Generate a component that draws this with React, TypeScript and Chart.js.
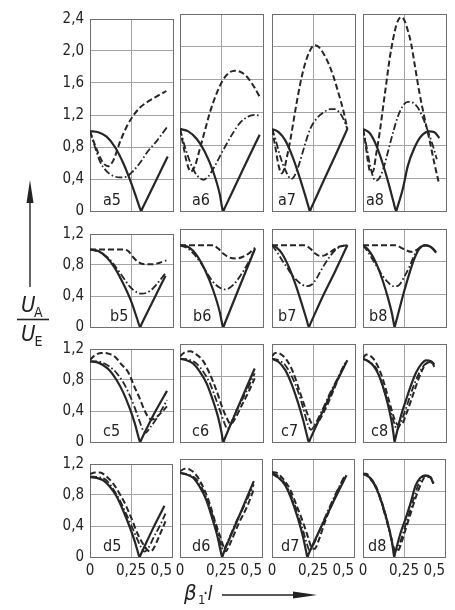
import { useEffect, useRef } from 'react';
import { Chart, registerables } from 'chart.js';

Chart.register(...registerables);

type Pt = [number, number];

// ---- axis ticks ----
const xTickValues = [0, 0.25, 0.5];
const xTickLabels = ['0', '0,25', '0,5'];
const yTickValuesTall = [0, 0.4, 0.8, 1.2, 1.6, 2.0, 2.4];
const yTickLabelsTall = ['0', '0,4', '0,8', '1,2', '1,6', '2,0', '2,4'];
const yTickValuesShort = [0, 0.4, 0.8, 1.2];
const yTickLabelsShort = ['0', '0,4', '0,8', '1,2'];

const rowNames = ['a', 'b', 'c', 'd'];
const colNames = ['5', '6', '7', '8'];

// ---- row a ----
const a5Solid: Pt[] = [[0, 1.0], [0.05, 0.985], [0.1, 0.93], [0.15, 0.8], [0.2, 0.6], [0.25, 0.34], [0.285, 0.13], [0.3, 0.04], [0.308, 0], [0.316, 0.035], [0.4, 0.39], [0.468, 0.68]];
const a5Dashed: Pt[] = [[0, 1.0], [0.02, 0.88], [0.05, 0.72], [0.08, 0.6], [0.11, 0.56], [0.14, 0.63], [0.18, 0.86], [0.22, 1.05], [0.25, 1.16], [0.3, 1.29], [0.35, 1.37], [0.4, 1.43], [0.46, 1.5]];
const a5DashDot: Pt[] = [[0, 1.0], [0.03, 0.8], [0.06, 0.62], [0.09, 0.52], [0.12, 0.46], [0.15, 0.43], [0.18, 0.42], [0.22, 0.43], [0.26, 0.5], [0.3, 0.6], [0.35, 0.75], [0.4, 0.87], [0.468, 1.06]];

const a6Solid: Pt[] = [[0, 1.0], [0.05, 0.97], [0.1, 0.88], [0.15, 0.72], [0.2, 0.48], [0.24, 0.2], [0.253, 0.05], [0.261, 0], [0.269, 0.035], [0.35, 0.38], [0.42, 0.68], [0.48, 0.93]];
const a6Dashed: Pt[] = [[0, 1.0], [0.02, 0.8], [0.04, 0.6], [0.065, 0.48], [0.09, 0.55], [0.12, 0.76], [0.15, 0.98], [0.18, 1.2], [0.22, 1.43], [0.26, 1.6], [0.3, 1.69], [0.33, 1.71], [0.37, 1.69], [0.41, 1.62], [0.45, 1.5], [0.48, 1.39]];
const a6DashDot: Pt[] = [[0, 1.0], [0.03, 0.78], [0.06, 0.6], [0.09, 0.47], [0.12, 0.4], [0.14, 0.38], [0.17, 0.42], [0.21, 0.55], [0.26, 0.74], [0.31, 0.92], [0.36, 1.07], [0.41, 1.15], [0.45, 1.17], [0.48, 1.16]];

const a7Solid: Pt[] = [[0, 1.0], [0.04, 0.96], [0.08, 0.86], [0.12, 0.68], [0.16, 0.45], [0.2, 0.19], [0.22, 0.05], [0.228, 0], [0.236, 0.035], [0.3, 0.32], [0.38, 0.67], [0.454, 1.0]];
const a7Dashed: Pt[] = [[0, 1.0], [0.02, 0.78], [0.04, 0.55], [0.058, 0.46], [0.075, 0.52], [0.09, 0.66], [0.11, 0.86], [0.14, 1.22], [0.17, 1.55], [0.2, 1.8], [0.23, 1.96], [0.255, 2.02], [0.28, 2.0], [0.31, 1.92], [0.34, 1.8], [0.37, 1.64], [0.4, 1.44], [0.43, 1.22], [0.454, 1.0]];
const a7DashDot: Pt[] = [[0, 1.0], [0.02, 0.88], [0.05, 0.66], [0.08, 0.5], [0.1, 0.42], [0.115, 0.39], [0.13, 0.41], [0.16, 0.55], [0.2, 0.82], [0.23, 1.0], [0.27, 1.13], [0.31, 1.2], [0.35, 1.24], [0.38, 1.24], [0.41, 1.19], [0.435, 1.1], [0.454, 1.0]];

const a8Solid: Pt[] = [[0, 1.0], [0.04, 0.95], [0.08, 0.8], [0.12, 0.57], [0.155, 0.33], [0.185, 0.1], [0.2, 0], [0.208, 0.05], [0.24, 0.27], [0.27, 0.55], [0.31, 0.77], [0.35, 0.91], [0.4, 0.97], [0.43, 0.96], [0.46, 0.89]];
const a8Dashed: Pt[] = [[0, 1.0], [0.015, 0.82], [0.03, 0.6], [0.045, 0.47], [0.06, 0.48], [0.08, 0.7], [0.1, 0.95], [0.12, 1.25], [0.14, 1.55], [0.16, 1.85], [0.18, 2.08], [0.2, 2.26], [0.22, 2.35], [0.235, 2.36], [0.25, 2.32], [0.27, 2.2], [0.29, 2.04], [0.31, 1.8], [0.34, 1.44], [0.37, 1.14], [0.4, 0.87], [0.43, 0.58], [0.455, 0.36]];
const a8DashDot: Pt[] = [[0, 1.0], [0.02, 0.8], [0.04, 0.58], [0.06, 0.42], [0.075, 0.37], [0.09, 0.38], [0.12, 0.5], [0.15, 0.72], [0.18, 0.95], [0.21, 1.15], [0.24, 1.28], [0.27, 1.33], [0.3, 1.32], [0.33, 1.26], [0.36, 1.14], [0.39, 0.98], [0.42, 0.8], [0.445, 0.63]];

// ---- row b ----
const b5Solid: Pt[] = [[0, 1.0], [0.05, 0.98], [0.1, 0.9], [0.15, 0.76], [0.2, 0.56], [0.25, 0.32], [0.285, 0.1], [0.302, 0], [0.31, 0.035], [0.38, 0.34], [0.455, 0.66]];
const b5Dashed: Pt[] = [[0, 1.0], [0.1, 1.0], [0.2, 1.0], [0.23, 0.98], [0.26, 0.9], [0.29, 0.84], [0.33, 0.81], [0.38, 0.81], [0.42, 0.83], [0.46, 0.86]];
const b5DashDot: Pt[] = [[0, 1.0], [0.04, 0.98], [0.08, 0.94], [0.12, 0.87], [0.16, 0.76], [0.2, 0.64], [0.24, 0.52], [0.28, 0.45], [0.31, 0.43], [0.34, 0.44], [0.38, 0.5], [0.42, 0.6], [0.46, 0.71]];

const b6Solid: Pt[] = [[0, 1.0], [0.05, 0.98], [0.1, 0.88], [0.15, 0.7], [0.2, 0.45], [0.24, 0.18], [0.253, 0.05], [0.261, 0], [0.269, 0.04], [0.35, 0.45], [0.452, 0.96]];
const b6Dashed: Pt[] = [[0, 1.0], [0.1, 1.0], [0.2, 1.0], [0.23, 0.96], [0.26, 0.9], [0.3, 0.85], [0.34, 0.84], [0.38, 0.86], [0.42, 0.91], [0.452, 0.97]];
const b6DashDot: Pt[] = [[0, 1.0], [0.04, 0.97], [0.08, 0.9], [0.12, 0.8], [0.16, 0.67], [0.2, 0.55], [0.24, 0.48], [0.27, 0.46], [0.3, 0.48], [0.34, 0.56], [0.38, 0.68], [0.42, 0.82], [0.452, 0.96]];

const b7Solid: Pt[] = [[0, 1.0], [0.03, 0.97], [0.06, 0.9], [0.1, 0.74], [0.14, 0.53], [0.18, 0.28], [0.21, 0.08], [0.222, 0], [0.23, 0.035], [0.3, 0.35], [0.38, 0.68], [0.454, 1.0]];
const b7Dashed: Pt[] = [[0, 1.0], [0.1, 1.0], [0.2, 1.0], [0.23, 0.96], [0.26, 0.9], [0.29, 0.87], [0.32, 0.88], [0.36, 0.93], [0.4, 0.98], [0.454, 1.0]];
const b7DashDot: Pt[] = [[0, 1.0], [0.03, 0.92], [0.06, 0.82], [0.09, 0.73], [0.12, 0.64], [0.15, 0.57], [0.18, 0.52], [0.21, 0.5], [0.24, 0.52], [0.27, 0.6], [0.3, 0.71], [0.34, 0.84], [0.38, 0.94], [0.42, 0.99], [0.454, 1.0]];

const b8Solid: Pt[] = [[0, 1.0], [0.03, 0.95], [0.06, 0.86], [0.09, 0.73], [0.12, 0.56], [0.15, 0.36], [0.175, 0.16], [0.185, 0.05], [0.19, 0], [0.196, 0.04], [0.24, 0.38], [0.28, 0.66], [0.31, 0.84], [0.34, 0.96], [0.37, 1.0], [0.4, 0.99], [0.42, 0.96], [0.44, 0.91]];
const b8Dashed: Pt[] = [[0, 1.0], [0.1, 1.0], [0.2, 1.0], [0.23, 0.97], [0.26, 0.94], [0.29, 0.92], [0.32, 0.94], [0.35, 0.98], [0.38, 1.0], [0.41, 0.98], [0.44, 0.92]];
const b8DashDot: Pt[] = [[0, 1.0], [0.03, 0.92], [0.06, 0.82], [0.09, 0.72], [0.12, 0.62], [0.15, 0.55], [0.18, 0.5], [0.2, 0.5], [0.22, 0.52], [0.25, 0.62], [0.28, 0.74], [0.31, 0.88], [0.34, 0.97], [0.37, 1.0], [0.4, 0.99], [0.44, 0.92]];

// ---- row c ----
const c5Solid: Pt[] = [[0, 1.04], [0.04, 1.03], [0.08, 0.99], [0.12, 0.92], [0.16, 0.8], [0.2, 0.64], [0.24, 0.43], [0.27, 0.24], [0.29, 0.08], [0.302, 0], [0.31, 0.035], [0.38, 0.34], [0.464, 0.66]];
const c5Dashed: Pt[] = [[0, 1.06], [0.03, 1.12], [0.07, 1.15], [0.11, 1.14], [0.15, 1.1], [0.19, 1.0], [0.23, 0.9], [0.27, 0.7], [0.3, 0.56], [0.33, 0.4], [0.355, 0.31], [0.375, 0.29], [0.4, 0.32], [0.43, 0.38], [0.464, 0.46]];
const c5DashDot: Pt[] = [[0, 1.04], [0.04, 1.04], [0.08, 1.02], [0.12, 0.97], [0.16, 0.89], [0.2, 0.77], [0.24, 0.6], [0.27, 0.44], [0.3, 0.26], [0.32, 0.15], [0.335, 0.12], [0.36, 0.18], [0.4, 0.3], [0.43, 0.41], [0.464, 0.54]];

const c6Solid: Pt[] = [[0, 1.02], [0.04, 1.0], [0.08, 0.96], [0.12, 0.86], [0.16, 0.72], [0.2, 0.5], [0.23, 0.3], [0.25, 0.12], [0.261, 0], [0.269, 0.04], [0.35, 0.43], [0.45, 0.9]];
const c6Dashed: Pt[] = [[0, 1.05], [0.03, 1.1], [0.06, 1.11], [0.1, 1.07], [0.14, 0.99], [0.18, 0.83], [0.22, 0.63], [0.25, 0.45], [0.28, 0.3], [0.305, 0.22], [0.33, 0.28], [0.37, 0.44], [0.41, 0.6], [0.45, 0.78]];
const c6DashDot: Pt[] = [[0, 1.02], [0.05, 1.01], [0.1, 0.96], [0.14, 0.86], [0.18, 0.72], [0.21, 0.56], [0.24, 0.39], [0.27, 0.22], [0.285, 0.16], [0.3, 0.2], [0.34, 0.38], [0.4, 0.62], [0.45, 0.84]];

const c7Solid: Pt[] = [[0, 1.02], [0.04, 0.98], [0.08, 0.88], [0.12, 0.7], [0.16, 0.46], [0.19, 0.25], [0.212, 0.07], [0.222, 0], [0.23, 0.035], [0.3, 0.35], [0.38, 0.7], [0.454, 1.0]];
const c7Dashed: Pt[] = [[0, 1.05], [0.02, 1.09], [0.05, 1.08], [0.09, 1.0], [0.13, 0.84], [0.17, 0.6], [0.2, 0.42], [0.23, 0.26], [0.255, 0.19], [0.28, 0.25], [0.33, 0.44], [0.37, 0.63], [0.41, 0.83], [0.44, 0.96]];
const c7DashDot: Pt[] = [[0, 1.02], [0.04, 1.0], [0.08, 0.94], [0.12, 0.8], [0.16, 0.6], [0.19, 0.4], [0.215, 0.22], [0.235, 0.15], [0.26, 0.22], [0.3, 0.38], [0.35, 0.6], [0.4, 0.8], [0.44, 0.97]];

const c8Solid: Pt[] = [[0, 1.02], [0.03, 0.99], [0.06, 0.94], [0.09, 0.84], [0.12, 0.68], [0.15, 0.46], [0.175, 0.22], [0.185, 0.08], [0.19, 0], [0.196, 0.05], [0.23, 0.33], [0.26, 0.52], [0.29, 0.7], [0.32, 0.85], [0.35, 0.95], [0.38, 1.0], [0.41, 0.99], [0.43, 0.95]];
const c8Dashed: Pt[] = [[0, 1.03], [0.02, 1.07], [0.04, 1.06], [0.07, 1.0], [0.1, 0.88], [0.13, 0.7], [0.16, 0.48], [0.19, 0.28], [0.21, 0.21], [0.23, 0.21], [0.26, 0.34], [0.3, 0.57], [0.34, 0.8], [0.38, 0.96], [0.41, 0.98], [0.43, 0.92]];
const c8DashDot: Pt[] = [[0, 1.02], [0.04, 0.98], [0.08, 0.9], [0.11, 0.74], [0.14, 0.55], [0.17, 0.35], [0.19, 0.22], [0.205, 0.15], [0.22, 0.2], [0.26, 0.42], [0.3, 0.66], [0.34, 0.85], [0.38, 0.96], [0.41, 0.97], [0.43, 0.94]];

// ---- row d ----
const d5Solid: Pt[] = [[0, 1.03], [0.04, 1.02], [0.08, 0.99], [0.12, 0.91], [0.16, 0.79], [0.2, 0.61], [0.24, 0.4], [0.27, 0.22], [0.29, 0.08], [0.302, 0], [0.31, 0.035], [0.38, 0.35], [0.454, 0.66]];
const d5Dashed: Pt[] = [[0, 1.07], [0.03, 1.09], [0.06, 1.09], [0.1, 1.04], [0.14, 0.95], [0.18, 0.82], [0.22, 0.66], [0.26, 0.46], [0.29, 0.3], [0.32, 0.18], [0.35, 0.09], [0.37, 0.07], [0.39, 0.12], [0.42, 0.26], [0.46, 0.46]];
const d5DashDot: Pt[] = [[0, 1.04], [0.05, 1.03], [0.1, 0.99], [0.14, 0.88], [0.18, 0.74], [0.22, 0.56], [0.25, 0.42], [0.28, 0.27], [0.31, 0.13], [0.33, 0.07], [0.35, 0.1], [0.39, 0.26], [0.43, 0.42], [0.46, 0.56]];

const d6Solid: Pt[] = [[0, 1.03], [0.04, 1.01], [0.08, 0.97], [0.12, 0.86], [0.16, 0.7], [0.2, 0.45], [0.23, 0.24], [0.248, 0.07], [0.257, 0], [0.264, 0.04], [0.35, 0.45], [0.45, 0.93]];
const d6Dashed: Pt[] = [[0, 1.05], [0.03, 1.08], [0.06, 1.07], [0.1, 1.0], [0.14, 0.86], [0.18, 0.66], [0.21, 0.46], [0.24, 0.28], [0.265, 0.13], [0.28, 0.07], [0.3, 0.14], [0.36, 0.42], [0.41, 0.62], [0.45, 0.83]];
const d6DashDot: Pt[] = [[0, 1.03], [0.05, 1.01], [0.1, 0.95], [0.14, 0.82], [0.18, 0.62], [0.21, 0.44], [0.235, 0.26], [0.255, 0.12], [0.265, 0.09], [0.28, 0.14], [0.34, 0.42], [0.4, 0.66], [0.45, 0.89]];

const d7Solid: Pt[] = [[0, 1.02], [0.04, 0.97], [0.08, 0.88], [0.12, 0.7], [0.16, 0.46], [0.19, 0.24], [0.208, 0.07], [0.216, 0], [0.223, 0.035], [0.3, 0.37], [0.38, 0.7], [0.454, 1.0]];
const d7Dashed: Pt[] = [[0, 1.04], [0.03, 1.03], [0.07, 0.95], [0.11, 0.83], [0.15, 0.63], [0.19, 0.42], [0.22, 0.24], [0.24, 0.12], [0.26, 0.1], [0.28, 0.18], [0.33, 0.47], [0.39, 0.76], [0.44, 0.98]];
const d7DashDot: Pt[] = [[0, 1.03], [0.04, 0.99], [0.08, 0.9], [0.12, 0.74], [0.16, 0.51], [0.19, 0.32], [0.21, 0.18], [0.23, 0.08], [0.25, 0.14], [0.32, 0.47], [0.38, 0.74], [0.44, 0.98]];

const d8Solid: Pt[] = [[0, 1.02], [0.03, 0.99], [0.06, 0.93], [0.09, 0.8], [0.12, 0.63], [0.15, 0.42], [0.175, 0.2], [0.185, 0.07], [0.19, 0], [0.196, 0.05], [0.23, 0.3], [0.26, 0.47], [0.29, 0.66], [0.32, 0.87], [0.35, 0.97], [0.38, 1.0], [0.41, 0.98], [0.43, 0.9]];
const d8Dashed: Pt[] = [[0, 1.02], [0.02, 1.02], [0.05, 0.94], [0.08, 0.86], [0.11, 0.7], [0.14, 0.5], [0.165, 0.3], [0.19, 0.1], [0.21, 0.07], [0.225, 0.12], [0.26, 0.34], [0.29, 0.53], [0.32, 0.72], [0.35, 0.88], [0.38, 0.98], [0.41, 0.98], [0.43, 0.9]];
const d8DashDot: Pt[] = [[0, 1.02], [0.04, 0.97], [0.08, 0.84], [0.11, 0.68], [0.14, 0.47], [0.16, 0.32], [0.185, 0.12], [0.2, 0.08], [0.215, 0.12], [0.25, 0.33], [0.28, 0.52], [0.31, 0.72], [0.34, 0.9], [0.37, 0.99], [0.4, 0.99], [0.43, 0.9]];

const panelCurves: Record<string, Pt[][]> = {
  a5: [a5Solid, a5Dashed, a5DashDot], a6: [a6Solid, a6Dashed, a6DashDot],
  a7: [a7Solid, a7Dashed, a7DashDot], a8: [a8Solid, a8Dashed, a8DashDot],
  b5: [b5Solid, b5Dashed, b5DashDot], b6: [b6Solid, b6Dashed, b6DashDot],
  b7: [b7Solid, b7Dashed, b7DashDot], b8: [b8Solid, b8Dashed, b8DashDot],
  c5: [c5Solid, c5Dashed, c5DashDot], c6: [c6Solid, c6Dashed, c6DashDot],
  c7: [c7Solid, c7Dashed, c7DashDot], c8: [c8Solid, c8Dashed, c8DashDot],
  d5: [d5Solid, d5Dashed, d5DashDot], d6: [d6Solid, d6Dashed, d6DashDot],
  d7: [d7Solid, d7Dashed, d7DashDot], d8: [d8Solid, d8Dashed, d8DashDot],
};

// ---- layout (px) ----
const COL_LEFT = [90, 180, 272, 363];
const PANEL_W = 83;
const ROW_TOP = [14, 229, 344, 459];
const ROW_H = [197, 98, 98, 98];
const PAD_L = 44;
const PAD_T = 10;
const PAD_R = 4;
const PAD_B = 28;
const LABEL_DX: Record<string, number> = {
  a5: 13, a6: 12, a7: 6, a8: 3,
  b5: 20, b6: 13, b7: 6, b8: 6,
  c5: 13, c6: 12, c7: 9, c8: 8,
  d5: 13, d6: 12, d7: 9, d8: 5,
};

const INK = '#262626';
const TEXT = '#222222';
const GRID = '#a3a3a3';
const FRAME = '#6e6e6e';
const FONT = "'DejaVu Sans Condensed', 'DejaVu Sans', sans-serif";

const LINE_STYLES = [
  { borderWidth: 2.2, borderDash: [] as number[] },
  { borderWidth: 2, borderDash: [6, 3] },
  { borderWidth: 1.8, borderDash: [7, 2.5, 1.6, 2.5] },
];

// The "0" at the start of each x axis sits centred on the panel edge.
const centerFirstXLabel = {
  id: 'centerFirstXLabel',
  beforeDraw(chart: any) {
    const s = chart.scales?.x;
    if (!s || !s.options.ticks.display || !s.getLabelItems) return;
    const items = s.getLabelItems();
    if (items && items.length) items[0].options.textAlign = 'center';
  },
};

function Panel({ row, col }: { row: number; col: number }) {
  const ref = useRef<HTMLCanvasElement | null>(null);
  const id = rowNames[row] + colNames[col];
  const h = ROW_H[row];
  const tall = row === 0;
  const yMax = tall ? 2.4 : 1.2;
  const yVals = tall ? yTickValuesTall : yTickValuesShort;
  const yLabels = tall ? yTickLabelsTall : yTickLabelsShort;
  const cw = PAD_L + PANEL_W + PAD_R;
  const ch = PAD_T + h + PAD_B;

  useEffect(() => {
    if (!ref.current) return;
    const curves = panelCurves[id];
    const frameColor = (max: number) => (ctx: any) =>
      ctx.tick && (ctx.tick.value === 0 || Math.abs(ctx.tick.value - max) < 1e-9) ? FRAME : GRID;
    const chart = new Chart(ref.current, {
      type: 'line',
      data: {
        datasets: curves.map((pts, i) => ({
          data: pts.map(([x, y]) => ({ x, y })),
          borderColor: INK,
          borderWidth: LINE_STYLES[i].borderWidth,
          borderDash: LINE_STYLES[i].borderDash,
          borderCapStyle: 'butt' as const,
          borderJoinStyle: 'round' as const,
          pointRadius: 0,
          cubicInterpolationMode: 'monotone' as const,
          fill: false,
        })),
      },
      options: {
        responsive: false,
        animation: false,
        devicePixelRatio: 1,
        events: [],
        layout: { padding: { top: PAD_T, right: PAD_R, left: 0, bottom: 0 } },
        plugins: { legend: { display: false }, tooltip: { enabled: false } },
        scales: {
          x: {
            type: 'linear',
            min: 0,
            max: 0.5,
            afterBuildTicks: (s: any) => { s.ticks = xTickValues.map((v) => ({ value: v })); },
            afterFit: (s: any) => { s.height = PAD_B; },
            grid: { color: frameColor(0.5), drawTicks: false, lineWidth: 1 },
            border: { color: FRAME, width: 1 },
            ticks: {
              display: row === 3,
              align: 'inner',
              padding: 5,
              color: TEXT,
              autoSkip: false,
              maxRotation: 0,
              minRotation: 0,
              font: { family: FONT, size: 15 },
              callback: (_v: any, i: number) => xTickLabels[i],
            },
          },
          y: {
            type: 'linear',
            min: 0,
            max: yMax,
            afterBuildTicks: (s: any) => { s.ticks = yVals.map((v) => ({ value: v })); },
            afterFit: (s: any) => { s.width = PAD_L; },
            grid: { color: frameColor(yMax), drawTicks: false, lineWidth: 1 },
            border: { color: FRAME, width: 1 },
            ticks: {
              display: col === 0,
              padding: 6,
              color: TEXT,
              autoSkip: false,
              font: { family: FONT, size: 15 },
              callback: (_v: any, i: number) => yLabels[i],
            },
          },
        },
      } as any,
      plugins: [centerFirstXLabel],
    });
    return () => chart.destroy();
  }, [id]);

  return (
    <canvas
      ref={ref}
      width={cw}
      height={ch}
      style={{
        position: 'absolute',
        left: COL_LEFT[col] - PAD_L,
        top: ROW_TOP[row] - PAD_T,
        width: cw,
        height: ch,
      }}
    />
  );
}

export default function App() {
  const panels: { row: number; col: number }[] = [];
  for (let r = 0; r < 4; r++) for (let c = 0; c < 4; c++) panels.push({ row: r, col: c });

  return (
    <div style={{ position: 'fixed', left: 0, top: 0, width: 455, height: 610, background: '#ffffff', overflow: 'hidden' }}>
      {panels.map((p) => (
        <Panel key={`${p.row}-${p.col}`} row={p.row} col={p.col} />
      ))}
      <svg width={455} height={610} style={{ position: 'absolute', left: 0, top: 0, pointerEvents: 'none' }}>
        <g fill={TEXT} fontFamily={FONT}>
          {panels.map((p) => {
            const id = rowNames[p.row] + colNames[p.col];
            const bottom = ROW_TOP[p.row] + ROW_H[p.row];
            return (
              <text key={id} x={COL_LEFT[p.col] + LABEL_DX[id]} y={bottom - 6} fontSize={16}>
                {id}
              </text>
            );
          })}
          {/* y-axis quantity: U_A / U_E with upward arrow */}
          <text x={21} y={312} fontSize={22} fontStyle="italic">U</text>
          <text x={34} y={317} fontSize={14}>A</text>
          <line x1={17} x2={49} y1={319.5} y2={319.5} stroke={TEXT} strokeWidth={1.6} />
          <text x={21} y={341} fontSize={22} fontStyle="italic">U</text>
          <text x={34.5} y={346} fontSize={14}>E</text>
          <line x1={30} x2={30} y1={287} y2={200} stroke={TEXT} strokeWidth={1.4} />
          <polygon points="30,180 26.5,203 33.5,203" fill={TEXT} />
          {/* x-axis quantity: beta_1 * l with arrow to the right */}
          <text x={184} y={600} fontSize={22} fontStyle="italic">β</text>
          <text x={198} y={604} fontSize={13}>1</text>
          <text x={203} y={599} fontSize={18}>·</text>
          <text x={207.5} y={600} fontSize={20} fontStyle="italic">l</text>
          <line x1={222} x2={296} y1={595} y2={595} stroke={TEXT} strokeWidth={1.4} />
          <polygon points="317,595 293,591.5 293,598.5" fill={TEXT} />
        </g>
      </svg>
    </div>
  );
}
